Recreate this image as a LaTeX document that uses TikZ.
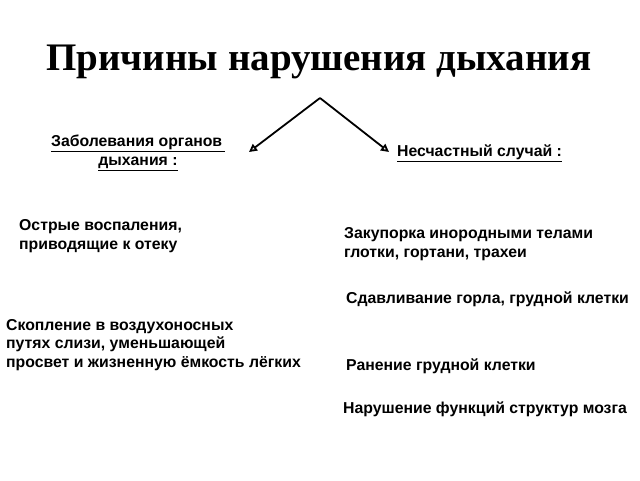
\documentclass[tikz,border=0pt]{standalone}
\usepackage{fontspec}
\setmainfont{Liberation Sans}
\newfontfamily\titlefont{Liberation Serif}
\usetikzlibrary{arrows.meta}
\tikzset{txt/.style={anchor=west,align=left,font=\bfseries\fontsize{15.8}{18.5}\selectfont,inner sep=0pt},
head/.style={align=center,font=\bfseries\fontsize{15.8}{18.5}\selectfont,inner sep=0pt},
arr/.style={line width=1.8pt,-{Triangle[open,length=8pt,width=8pt]}}}
\begin{document}
\begin{tikzpicture}[x=1pt,y=-1pt]
\useasboundingbox (0,0) rectangle (640,480);
\node[font=\titlefont\bfseries\fontsize{39}{44}\selectfont] (title) at (319,62) {Причины нарушения дыхания};
\coordinate (apex) at (320,98);
\node[head] (h1) at (138,153) {\underline{Заболевания органов\,}\\\underline{дыхания :}};
\node[head,anchor=west] (h2) at (397,153) {\underline{Несчастный случай :}};
\coordinate (e1) at (249,152);
\coordinate (e2) at (389,152);
\draw[arr] (apex) -- (e1);
\draw[arr] (apex) -- (e2);
\node[txt] (a1) at (19,236) {Острые воспаления,\\приводящие к отеку};
\node[txt] (a2) at (6,345) {Скопление в воздухоносных\\путях слизи, уменьшающей\\просвет и жизненную ёмкость лёгких};
\node[txt] (b1) at (344,244) {Закупорка инородными телами\\глотки, гортани, трахеи};
\node[txt] (b2) at (346,299) {Сдавливание горла, грудной клетки};
\node[txt] (b3) at (346,366) {Ранение грудной клетки};
\node[txt] (b4) at (343,409) {Нарушение функций структур мозга};
\end{tikzpicture}
\end{document}
